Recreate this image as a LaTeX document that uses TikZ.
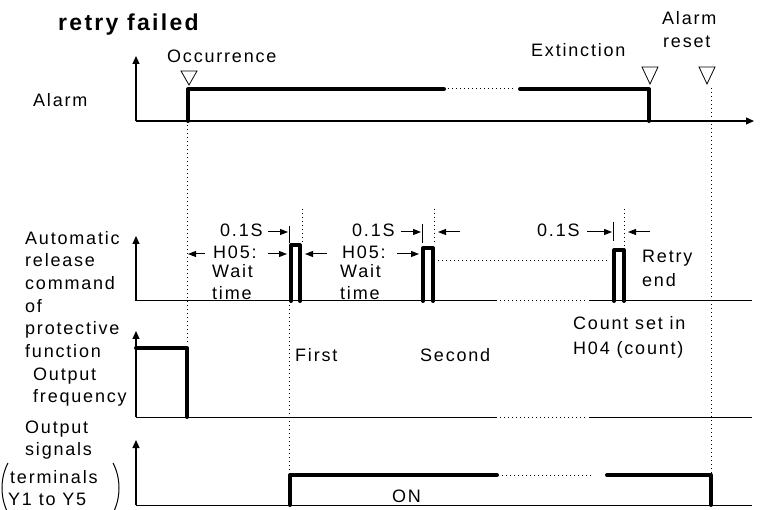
\documentclass[tikz,border=0pt]{standalone}
\usepackage{fontspec}
\setmainfont{Liberation Sans}[LetterSpace=10]
\usetikzlibrary{arrows.meta}
\begin{document}
\begin{tikzpicture}[x=1pt,y=-1pt,
 thinln/.style={line width=1pt},
 thk/.style={line width=4pt, line cap=round, line join=round},
 dotln/.style={line width=1pt, dash pattern=on 1pt off 3pt},
 axis/.style={line width=1.2pt, -{Triangle[length=8pt,width=7pt]}},
 sarr/.style={line width=1pt, -{Triangle[length=8pt,width=6pt]}},
 lbl/.style={inner sep=0pt, anchor=base west, font=\fontsize{18}{22}\selectfont},
 tri/.style={line width=0.8pt, line join=miter}]
\useasboundingbox (0,0) rectangle (760,510);
% title
\node[inner sep=0pt, anchor=base west, font=\fontsize{23}{27}\selectfont\bfseries] (title) at (58,31) {retry failed};
% ---------------- Alarm
\node[lbl] (occ) at (167,63) {Occurrence};
\node[lbl] (ext) at (531,57) {Extinction};
\node[lbl] (ar1) at (662,25) {Alarm};
\node[lbl] (ar2) at (663,48) {reset};
\node[lbl] (alarm) at (33,107) {Alarm};
\draw[axis] (136,121) -- (136,56);
\draw[axis] (136,121) -- (754,121);
\draw[thk] (188,121) -- (188,89) -- (444,89);
\draw[dotln] (448,89) -- (516,89);
\draw[thk] (520,89) -- (649,89) -- (649,121);
\draw[tri] (181,71) -- (197,71) -- (189,85) -- cycle;
\draw[tri] (642,67) -- (658,67) -- (650,84) -- cycle;
\draw[tri] (699,67) -- (715,67) -- (707,84) -- cycle;
\draw[dotln] (187,125) -- (187,345);
\draw[dotln] (711,88) -- (711,503);
% ---------------- Automatic release
\node[lbl] (l1) at (25,245) {Automatic};
\node[lbl] (l2) at (25,267) {release};
\node[lbl] (l3) at (25,290) {command};
\node[lbl] (l4) at (25,313) {of};
\node[lbl] (l5) at (25,335) {protective};
\node[lbl] (l6) at (25,358) {function};
\draw[axis] (136,301) -- (136,236);
\draw[thinln] (136,301) -- (497,301);
\draw[dotln] (500,301) -- (586,301);
\draw[thinln] (589,301) -- (752,301);
% pulses
\draw[thk] (291,301) -- (291,245) -- (300,245) -- (300,301);
\draw[thk] (423,301) -- (423,248) -- (433,248) -- (433,301);
\draw[thk] (614,301) -- (614,250) -- (624,250) -- (624,301);
\draw[dotln] (438,261) -- (610,261);
% pulse 1 annotations
\node[lbl] (p1s) at (220,237) {0.1S};
\draw[sarr] (268,232) -- (288,232);
\draw[thinln] (289,226) -- (289,243);
\draw[dotln] (302,209) -- (302,242);
\draw[sarr] (205,254) -- (188,254);
\node[lbl] (p1h) at (213,259) {H05:};
\draw[sarr] (268,254) -- (287,254);
\node[lbl] (p1w) at (212,278) {Wait};
\node[lbl] (p1t) at (212,300) {time};
% pulse 2 annotations
\draw[sarr] (327,254) -- (305,254);
\node[lbl] (p2h) at (342,259) {H05:};
\node[lbl] (p2w) at (340,278) {Wait};
\node[lbl] (p2t) at (340,300) {time};
\draw[sarr] (397,254) -- (419,254);
\node[lbl] (p2s) at (352,237) {0.1S};
\draw[sarr] (401,232) -- (421,232);
\draw[thinln] (422,224) -- (422,243);
\draw[dotln] (434,209) -- (434,245);
\draw[sarr] (460,232) -- (438,232);
% pulse 3 annotations
\node[lbl] (p3s) at (537,237) {0.1S};
\draw[sarr] (587,232) -- (612,232);
\draw[thinln] (613,222) -- (613,241);
\draw[dotln] (624,209) -- (624,247);
\draw[sarr] (650,232) -- (628,232);
\node[lbl] (re1) at (642,263) {Retry};
\node[lbl] (re2) at (642,287) {end};
% ---------------- Output frequency
\node[lbl] (of1) at (33,380) {Output};
\node[lbl] (of2) at (33,402) {frequency};
\draw[axis] (136,417) -- (136,331);
\draw[thinln] (136,417) -- (497,417);
\draw[dotln] (500,417) -- (586,417);
\draw[thinln] (589,417) -- (752,417);
\draw[thk] (136,348) -- (187,348) -- (187,417);
\node[lbl] (first) at (295,362) {First};
\node[lbl] (second) at (420,362) {Second};
\node[lbl] (cnt1) at (573,330) {Count set in};
\node[lbl] (cnt2) at (573,355) {H04 (count)};
\draw[dotln] (289,305) -- (289,472);
% ---------------- Output signals
\node[lbl] (os1) at (25,433) {Output};
\node[lbl] (os2) at (25,455) {signals};
\node[lbl] (os3) at (10,483) {terminals};
\node[lbl] (os4) at (8,505) {Y1 to Y5};
\draw[thinln] (8,463) .. controls (0,478) and (0,498) .. (8,513);
\draw[thinln] (113,463) .. controls (121,478) and (121,498) .. (113,513);
\draw[axis] (136,505) -- (136,440);
\draw[thinln] (136,505) -- (752,505);
\draw[thk] (290,505) -- (290,475) -- (497,475);
\draw[dotln] (502,475) -- (594,475);
\draw[thk] (607,475) -- (711,475) -- (711,505);
\node[lbl] (on) at (392,502) {ON};
\end{tikzpicture}
\end{document}
